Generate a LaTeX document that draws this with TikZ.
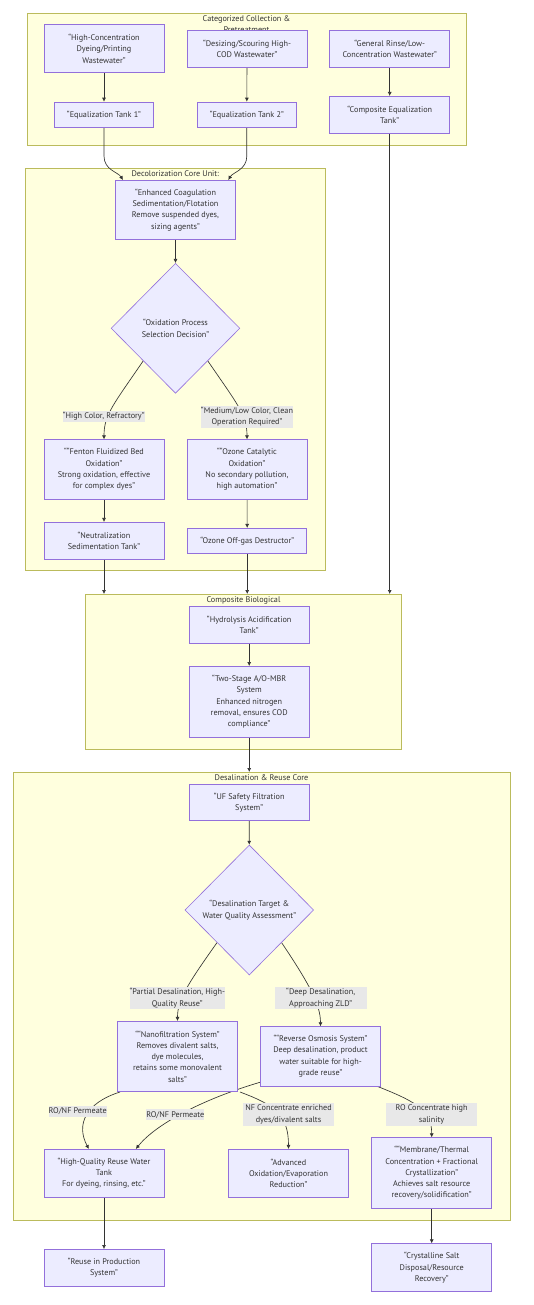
\documentclass[tikz,border=0pt]{standalone}
\usepackage{fontspec}
\setmainfont{PT Sans}
\usetikzlibrary{arrows.meta,shapes.geometric,calc}
\definecolor{nodefill}{HTML}{ECECFF}
\definecolor{nodeline}{HTML}{9370DB}
\definecolor{clfill}{HTML}{FFFFDE}
\definecolor{clline}{HTML}{AAAA33}
\definecolor{ink}{HTML}{333333}
\definecolor{lblfill}{HTML}{E8E8E8}
\pgfdeclarelayer{clu}
\pgfdeclarelayer{edg}
\pgfsetlayers{clu,edg,main}
\tikzset{
 txt/.style={font=\fontsize{8.2}{11.3}\selectfont, text=ink, align=center},
 box/.style={txt, draw=nodeline, fill=nodefill, line width=0.65pt, inner sep=0pt},
 cluster/.style={draw=clline!80, fill=clfill, line width=0.6pt, inner sep=0pt},
 cltitle/.style={txt, inner sep=0pt},
 lbl/.style={txt, fill=lblfill, inner sep=0pt},
 dec/.style={txt, diamond, draw=nodeline, fill=nodefill, line width=0.6pt, inner sep=0pt, minimum width=128.7pt, minimum height=130pt},
 arr/.style={draw=ink, line width=0.65pt, -{Latex[length=4pt,width=4pt]}},
}
\begin{document}
\begin{tikzpicture}[x=1pt,y=-1pt]
\useasboundingbox (0,0) rectangle (533,1305);
% clusters
\begin{pgfonlayer}{clu}
\fill[white] (0,0) rectangle (533,1305);
\node[cluster, minimum width=438.3pt, minimum height=132pt] (CL1) at (246.85,79) {};
\node[cltitle] (T1) at (246.5,23.8) {Categorized Collection \&\\Pretreatment};
\node[cluster, minimum width=299.3pt, minimum height=402.4pt] (CL2) at (175.35,369.5) {};
\node[cltitle] (T2) at (175.3,173.7) {Decolorization Core Unit:};
\node[cluster, minimum width=316pt, minimum height=154.7pt] (CL3) at (243.7,671.65) {};
\node[cltitle] (T3) at (243.5,600) {Composite Biological};
\node[cluster, minimum width=497pt, minimum height=447.7pt] (CL4) at (261.5,996.15) {};
\node[cltitle] (T4) at (261.5,777.7) {Desalination \& Reuse Core};
\end{pgfonlayer}
% nodes
\node[box, minimum width=120.3pt, minimum height=48pt] (A) at (104,48.7) {“High-Concentration\\Dyeing/Printing\\Wastewater”};
\node[box, minimum width=120.3pt, minimum height=37pt] (B) at (247,48.8) {“Desizing/Scouring High-\\COD Wastewater”};
\node[box, minimum width=120pt, minimum height=37pt] (C) at (389.7,48.8) {“General Rinse/Low-\\Concentration Wastewater”};
\node[box, minimum width=99.4pt, minimum height=25.3pt] (E1) at (104,114.7) {“Equalization Tank 1”};
\node[box, minimum width=99pt, minimum height=25.3pt] (E2) at (246.8,114.7) {“Equalization Tank 2”};
\node[box, minimum width=120pt, minimum height=37pt] (E3) at (389.7,114.8) {“Composite Equalization\\Tank”};
\node[box, minimum width=120.4pt, minimum height=59pt] (Coag) at (175.5,209.8) {“Enhanced Coagulation\\Sedimentation/Flotation\\Remove suspended dyes,\\sizing agents”};
\node[dec] (D1) at (175.5,328.3) {“Oxidation Process\\Selection Decision”};
\node[lbl, minimum width=80pt, minimum height=11pt] (L1) at (103.7,416.5) {“High Color, Refractory”};
\node[lbl, minimum width=92pt, minimum height=22pt] (L2) at (247,416.7) {“Medium/Low Color, Clean\\Operation Required”};
\node[box, minimum width=120.3pt, minimum height=59.6pt] (Fen) at (104,469.5) {““Fenton Fluidized Bed\\Oxidation”\\Strong oxidation, effective\\for complex dyes”};
\node[box, minimum width=120.3pt, minimum height=59.6pt] (Oz) at (247,469.5) {““Ozone Catalytic\\Oxidation”\\No secondary pollution,\\high automation”};
\node[box, minimum width=120.3pt, minimum height=37pt] (Neut) at (104,540.8) {“Neutralization\\Sedimentation Tank”};
\node[box, minimum width=119pt, minimum height=25.4pt] (Off) at (247.2,541) {“Ozone Off-gas Destructor”};
\node[box, minimum width=120.3pt, minimum height=37pt] (Hyd) at (249.2,624.5) {“Hydrolysis Acidification\\Tank”};
\node[box, minimum width=120.3pt, minimum height=70.7pt] (MBR) at (249.2,701.7) {“Two-Stage A/O-MBR\\System\\Enhanced nitrogen\\removal, ensures COD\\compliance”};
\node[box, minimum width=120.3pt, minimum height=36.4pt] (UF) at (249.2,802.5) {“UF Safety Filtration\\System”};
\node[dec] (D2) at (249.3,910) {“Desalination Target \&\\Water Quality Assessment”};
\node[lbl, minimum width=92pt, minimum height=22.3pt] (L3) at (177.3,998.2) {“Partial Desalination, High-\\Quality Reuse”};
\node[lbl, minimum width=92pt, minimum height=22.3pt] (L4) at (320.7,998.2) {“Deep Desalination,\\Approaching ZLD”};
\node[box, minimum width=120.4pt, minimum height=70.4pt] (NF) at (177.5,1056.5) {““Nanofiltration System”\\Removes divalent salts,\\dye molecules,\\retains some monovalent\\salts”};
\node[box, minimum width=120.4pt, minimum height=59.3pt] (RO) at (320.5,1056.3) {““Reverse Osmosis System”\\Deep desalination, product\\water suitable for high-\\grade reuse”};
\node[lbl, minimum width=55.3pt, minimum height=10.7pt] (L5) at (77.7,1111.3) {RO/NF Permeate};
\node[lbl, minimum width=55.3pt, minimum height=10.7pt] (L6) at (175.3,1114.7) {RO/NF Permeate};
\node[lbl, minimum width=91.6pt, minimum height=22.4pt] (L7) at (288.5,1114.5) {NF Concentrate enriched\\dyes/divalent salts};
\node[lbl, minimum width=91.6pt, minimum height=22.4pt] (L8) at (431.5,1114.5) {RO Concentrate high\\salinity};
\node[box, minimum width=120.3pt, minimum height=48pt] (Reuse) at (104,1173.3) {“High-Quality Reuse Water\\Tank\\For dyeing, rinsing, etc.”};
\node[box, minimum width=120.4pt, minimum height=48pt] (Adv) at (288.5,1173.3) {“Advanced\\Oxidation/Evaporation\\Reduction”};
\node[box, minimum width=120pt, minimum height=70.6pt] (Mem) at (431.7,1173) {““Membrane/Thermal\\Concentration + Fractional\\Crystallization”\\Achieves salt resource\\recovery/solidification”};
\node[box, minimum width=120.3pt, minimum height=36.7pt] (Prod) at (104,1267.7) {“Reuse in Production\\System”};
\node[box, minimum width=120pt, minimum height=48pt] (Cry) at (431.7,1267.7) {“Crystalline Salt\\Disposal/Resource\\Recovery”};
% edges
\begin{pgfonlayer}{edg}
\draw[arr] (A) -- (E1);
\draw[arr] (B) -- (E2);
\draw[arr] (C) -- (E3);
\draw[arr] (E1.south) -- (104,156) .. controls (104,170) and (118,172) .. ([xshift=8pt]Coag.north west);
\draw[arr] (E2.south) -- (246.8,156) .. controls (246.8,170) and (233,172) .. ([xshift=-7.7pt]Coag.north east);
\draw[arr] (E3.south) -- (E3.south |- CL3.north);
\draw[arr] (Coag) -- (D1);
\draw[arr] (D1.south west) .. controls (113,405) and (104,415) .. (Fen.north);
\draw[arr] (D1.south east) .. controls (238,405) and (247,415) .. (Oz.north);
\draw[arr] (Fen) -- (Neut);
\draw[arr] (Oz) -- (Off);
\draw[arr] (Neut.south) -- (Neut.south |- CL3.north);
\draw[arr] (Off.south) -- (Off.south |- CL3.north);
\draw[arr] (Hyd) -- (MBR);
\draw[arr] (MBR.south) -- (MBR.south |- CL4.north);
\draw[arr] (UF) -- (D2);
\draw[arr] (D2.south west) .. controls (187,985) and (177.5,1000) .. (NF.north);
\draw[arr] (D2.south east) .. controls (310,985) and (320.5,1005) .. (RO.north);
\draw[arr] ([xshift=3pt]NF.south west) .. controls (85,1103) and (76,1125) .. ([xshift=45.3pt]Reuse.north west);
\draw[arr] ([yshift=4pt]RO.south west) .. controls (200,1100) and (155,1125) .. ([xshift=92.3pt]Reuse.north west);
\draw[arr] ([xshift=2pt]NF.south east) .. controls (275,1105) and (288.5,1115) .. (Adv.north);
\draw[arr] ([xshift=-4pt]RO.south east) .. controls (420,1103) and (431.7,1112) .. (Mem.north);
\draw[arr] (Reuse) -- (Prod);
\draw[arr] (Mem) -- (Cry);
\end{pgfonlayer}
\end{tikzpicture}
\end{document}
